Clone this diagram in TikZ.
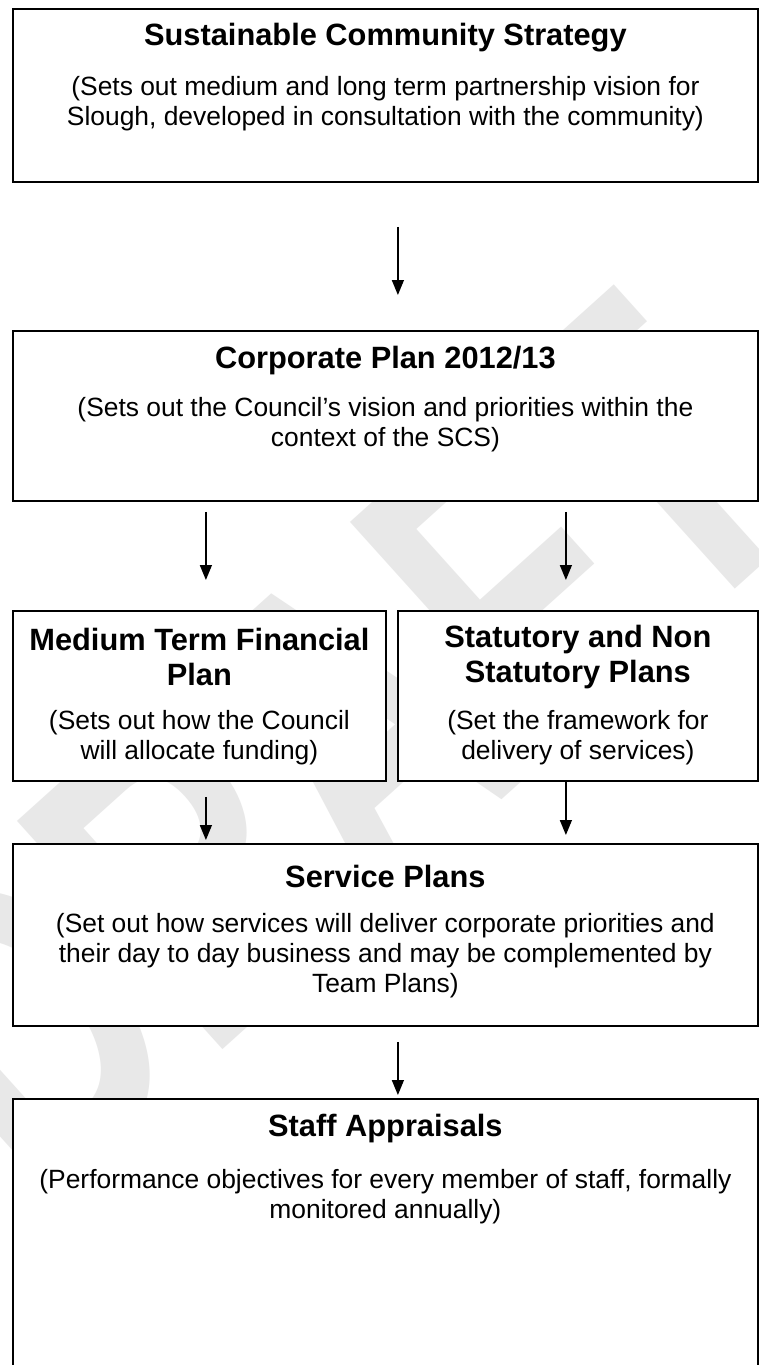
\documentclass[tikz,border=0pt]{standalone}
\usepackage{fontspec}
\setmainfont{Liberation Sans}
\usetikzlibrary{calc,arrows.meta}

\begin{document}
\begin{tikzpicture}[x=1pt,y=-1pt,
  planbox/.style={draw=black, line width=1.8pt, fill=white, rectangle, inner sep=0pt, anchor=north west},
  ttl/.style={align=center, font=\fontsize{30.8}{35}\selectfont\bfseries, inner sep=0pt},
  txt/.style={align=center, font=\fontsize{26.4}{30}\selectfont, inner sep=0pt},
  flow/.style={line width=1.5pt, -{Triangle[length=15pt,width=12pt]}},
  wmark/.style={text=gray!18, inner sep=0pt, font=\fontsize{310}{310}\selectfont\bfseries}
]
\clip (0,0) rectangle (759,1365);
\useasboundingbox (0,0) rectangle (759,1365);
\fill[white] (0,0) rectangle (759,1365);

% tall diagonal watermark behind the boxes
\node[wmark, rotate=42, yscale=1.44] (wm) at (329,748) {DRAFT};

% boxes
\node[planbox, minimum width=745pt, minimum height=173pt] (scs) at (12,8) {};
\node[planbox, minimum width=745pt, minimum height=170pt] (corp) at (12,330) {};
\node[planbox, minimum width=373pt, minimum height=170pt] (mtfp) at (12,610) {};
\node[planbox, minimum width=360pt, minimum height=170pt] (sns) at (397,610) {};
\node[planbox, minimum width=745pt, minimum height=182pt] (serv) at (12,843) {};
\node[planbox, minimum width=745pt, minimum height=320pt] (staff) at (12,1098) {};

% texts
\node[ttl] (scsT) at ($(scs.north)+(0,30)$) {Sustainable Community Strategy};
\node[txt] (scsD) at ($(scs.north)+(0,96)$) {(Sets out medium and long term partnership vision for\\Slough, developed in consultation with the community)};

\node[ttl] (corpT) at ($(corp.north)+(0,31)$) {Corporate Plan 2012/13};
\node[txt] (corpD) at ($(corp.north)+(0,95)$) {(Sets out the Council’s vision and priorities within the\\context of the SCS)};

\node[ttl] (mtfpT) at ($(mtfp.north)+(0,47)$) {Medium Term Financial\\Plan};
\node[txt] (mtfpD) at ($(mtfp.north)+(0,128)$) {(Sets out how the Council\\will allocate funding)};

\node[ttl] (snsT) at ($(sns.north)+(0,47)$) {Statutory and Non\\Statutory Plans};
\node[txt] (snsD) at ($(sns.north)+(0,128)$) {(Set the framework for\\delivery of services)};

\node[ttl] (servT) at ($(serv.north)+(0,33)$) {Service Plans};
\node[txt] (servD) at ($(serv.north)+(0,113)$) {(Set out how services will deliver corporate priorities and\\their day to day business and may be complemented by\\Team Plans)};

\node[ttl] (staffT) at ($(staff.north)+(0,31)$) {Staff Appraisals};
\node[txt] (staffD) at ($(staff.north)+(0,99)$) {(Performance objectives for every member of staff, formally\\monitored annually)};

% connectors
\coordinate (a1s) at ($(scs.south)+(12.5,44)$);
\coordinate (a1e) at ($(corp.north)+(12.5,-35)$);
\draw[flow] (a1s) -- (a1e);

\coordinate (a2s) at ($(corp.south -| mtfp.north)+(6.5,10)$);
\coordinate (a2e) at ($(mtfp.north)+(6.5,-30)$);
\draw[flow] (a2s) -- (a2e);

\coordinate (a3s) at ($(corp.south -| sns.north)+(-12,10)$);
\coordinate (a3e) at ($(sns.north)+(-12,-30)$);
\draw[flow] (a3s) -- (a3e);

\coordinate (a4s) at ($(mtfp.south)+(6.5,15)$);
\coordinate (a4e) at ($(serv.north -| mtfp.south)+(6.5,-3)$);
\draw[flow] (a4s) -- (a4e);

\coordinate (a5s) at ($(sns.south)+(-12,0)$);
\coordinate (a5e) at ($(serv.north -| sns.south)+(-12,-8)$);
\draw[flow] (a5s) -- (a5e);

\coordinate (a6s) at ($(serv.south)+(12.5,15)$);
\coordinate (a6e) at ($(staff.north)+(12.5,-3)$);
\draw[flow] (a6s) -- (a6e);
\end{tikzpicture}
\end{document}
